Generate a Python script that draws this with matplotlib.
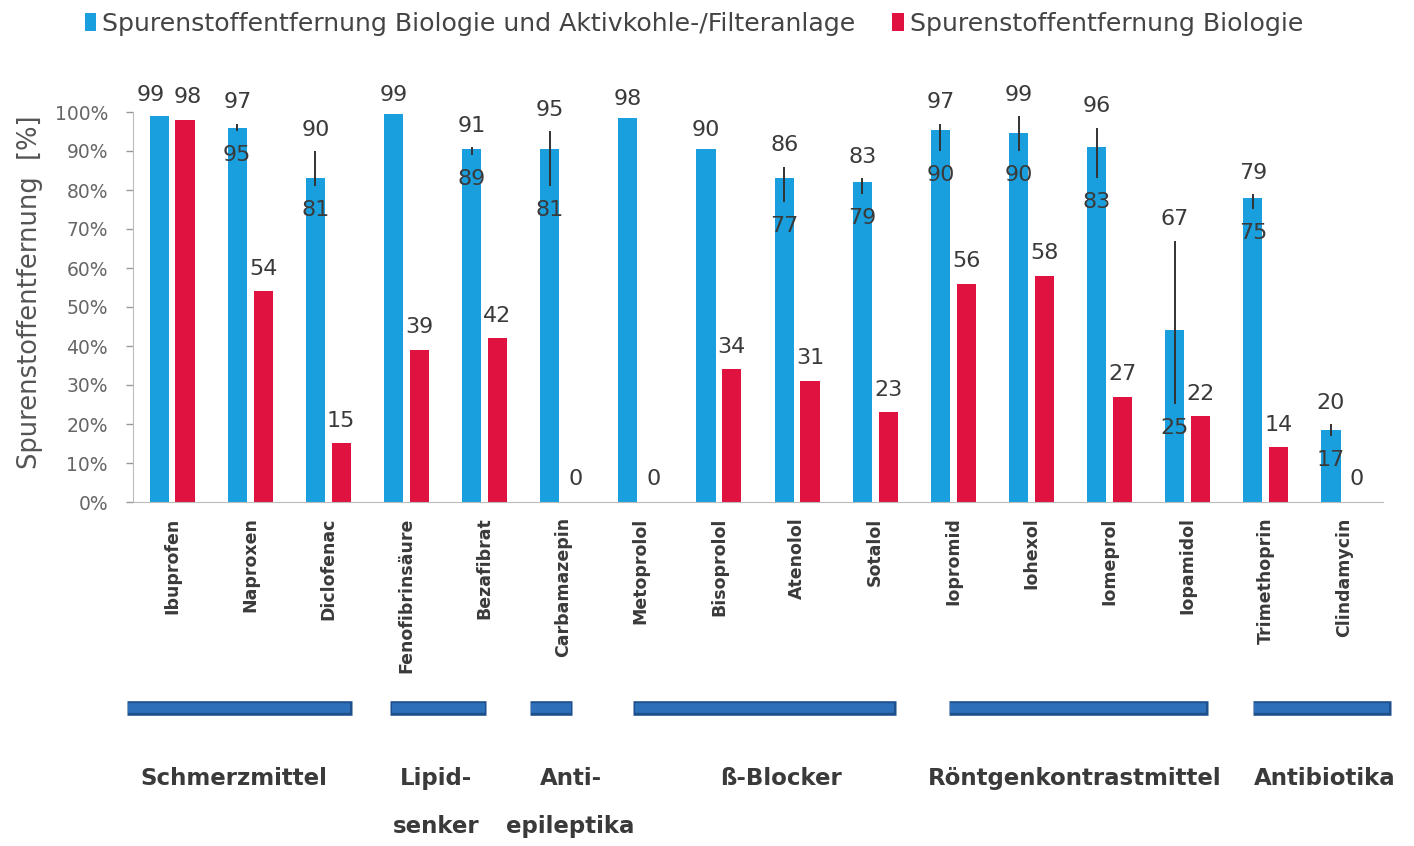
import matplotlib
matplotlib.use("Agg")
import matplotlib.pyplot as plt
import matplotlib.transforms as mtransforms
from matplotlib.patches import Patch
from matplotlib.lines import Line2D
from matplotlib.ticker import FuncFormatter

# ---------------- data ----------------
substances = ["Ibuprofen", "Naproxen", "Diclofenac", "Fenofibrinsäure", "Bezafibrat",
              "Carbamazepin", "Metoprolol", "Bisoprolol", "Atenolol", "Sotalol",
              "Iopromid", "Iohexol", "Iomeprol", "Iopamidol", "Trimethoprin", "Clindamycin"]
blue_mean = [99, 96, 83, 99.5, 90.5, 90.5, 98.5, 90.5, 83, 82, 95.5, 94.5, 91, 44, 78, 18.5]
blue_max = [99, 97, 90, 99, 91, 95, 98, 90, 86, 83, 97, 99, 96, 67, 79, 20]
blue_min = [None, 95, 81, None, 89, 81, None, None, 77, 79, 90, 90, 83, 25, 75, 17]
red_vals = [98, 54, 15, 39, 42, 0, 0, 34, 31, 23, 56, 58, 27, 22, 14, 0]

groups = ["Schmerzmittel", "Lipid-\nsenker", "Anti-\nepileptika", "ß-Blocker",
          "Röntgenkontrastmittel", "Antibiotika"]
group_first = [0, 3, 5, 6, 10, 14]
group_last = [2, 4, 5, 9, 13, 15]

series_names = ["Spurenstoffentfernung Biologie und Aktivkohle-/Filteranlage",
                "Spurenstoffentfernung Biologie"]
yticks = [0, 10, 20, 30, 40, 50, 60, 70, 80, 90, 100]

# ---------------- layout / style ----------------
BLUE = "#1A9FDE"
RED = "#E0123F"
TXT = "#3a3a3a"
GRP = "#2D6FB8"
GRP_EDGE = "#1C4F8C"
group_pad = [(0.58, 0.30), (0.21, 0.02), (0.42, 0.12), (0.10, 0.26),
             (0.06, 0.26), (0.17, 0.60)]  # extension left of first / right of last category
group_label_shift = [-0.21, -0.12, 0.1, 0.3, 0.06, 0.26]

plt.rcParams['font.family'] = ['DejaVu Sans']

fig = plt.figure(figsize=(14.14, 8.46), dpi=100)
ax = fig.add_axes([133 / 1414, 1 - 502 / 846, 1250 / 1414, 390 / 846])

x = list(range(len(substances)))
w = 0.245
off = 0.165
xb = [i - off for i in x]
xr = [i + off for i in x]

ax.bar(xb, blue_mean, width=w, color=BLUE, zorder=2)
ax.bar(xr, red_vals, width=w, color=RED, zorder=2)

# error ranges
for xi, lo, hi in zip(xb, blue_min, blue_max):
    if lo is not None:
        ax.vlines(xi, lo, hi, color="#333333", lw=1.4, zorder=3)

lab_fs = 16
for xi, lo, hi, rv in zip(xb, blue_min, blue_max, red_vals):
    # push the label apart from the neighbouring red label when they sit at the same height
    dx = -6 if abs(hi - rv) < 4 else 0
    ax.annotate(f"{hi}", (xi, hi), xytext=(dx, 11), textcoords="offset points",
                ha="center", va="baseline", fontsize=lab_fs, color=TXT, zorder=4)
    if lo is not None:
        ax.annotate(f"{lo}", (xi, lo), xytext=(0, -10), textcoords="offset points",
                    ha="center", va="top", fontsize=lab_fs, color=TXT, zorder=4)
for xi, v, hi in zip(xr, red_vals, blue_max):
    dx = 2 if abs(hi - v) < 4 else 0
    ax.annotate(f"{v}", (xi, v), xytext=(dx, 12), textcoords="offset points",
                ha="center", va="baseline", fontsize=lab_fs, color=TXT, zorder=4)

ax.set_xlim(-0.5, len(substances) - 0.5)
ax.set_ylim(0, 100)
ax.set_yticks(yticks)
ax.yaxis.set_major_formatter(FuncFormatter(lambda v, p: f"{int(v)}%"))
ax.tick_params(axis="y", labelsize=13.5, colors="#999999", labelcolor="#666666",
               length=5, width=1, pad=13)
ax.set_xticks(x)
ax.set_xticklabels(substances, rotation=90, fontsize=12.5, fontweight="bold",
                   color=TXT, va="top")
ax.tick_params(axis="x", length=0, pad=11)
for s in ["top", "right"]:
    ax.spines[s].set_visible(False)
ax.spines["left"].set_color("#BBBBBB")
ax.spines["bottom"].set_color("#BBBBBB")
ax.set_ylabel("Spurenstoffentfernung  [%]", fontsize=18.5, color="#555555")
ax.yaxis.set_label_coords(-(133 - 43) / 1250, 0.5 - (292 - 307) / 390)

# group bars and labels
trans = mtransforms.blended_transform_factory(ax.transData, fig.transFigure)
bar_y = 1 - 708 / 846
for name, f, l, (pl, pr), sh in zip(groups, group_first, group_last, group_pad, group_label_shift):
    x0 = f - pl
    x1 = l + pr
    fig.add_artist(Line2D([x0, x1], [bar_y, bar_y], transform=trans, color=GRP_EDGE,
                          lw=10.5, solid_capstyle="butt", clip_on=False))
    fig.add_artist(Line2D([x0 + 0.02, x1 - 0.02], [bar_y, bar_y], transform=trans, color=GRP,
                          lw=7, solid_capstyle="butt", clip_on=False))
    fig.text((f + l) / 2 + sh, 1 - 767 / 846, name, transform=trans, ha="center", va="top",
             fontsize=16.5, fontweight="bold", color=TXT, linespacing=2.4)

# legend
handles = [Patch(facecolor=BLUE, edgecolor="none"), Patch(facecolor=RED, edgecolor="none")]
fig.legend(handles, series_names, loc="upper left", bbox_to_anchor=(62 / 1414, 1 + 11 / 846),
           ncol=2, frameon=False, fontsize=18.2, handlelength=0.45, handleheight=0.75,
           handletextpad=0.25, columnspacing=1.45, labelcolor="#444444")

fig.savefig("out.png", dpi=100, facecolor="white")
